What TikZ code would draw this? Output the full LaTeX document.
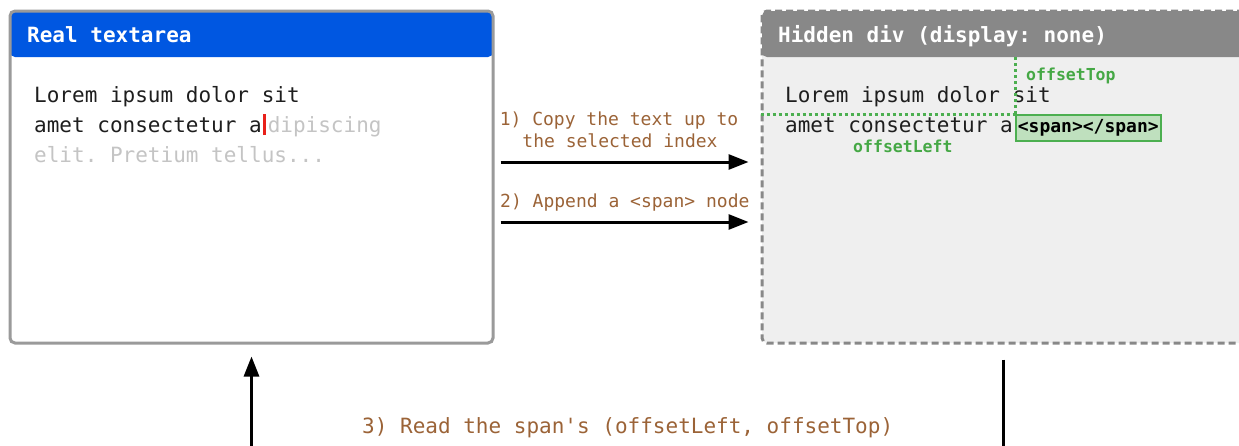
\documentclass[tikz,border=0pt]{standalone}
\usepackage{fontspec}
\setmonofont{DejaVu Sans Mono}
\usetikzlibrary{arrows.meta}
\definecolor{hdrblue}{HTML}{0057E1}
\definecolor{hdrgray}{HTML}{888888}
\definecolor{boxgray}{HTML}{9A9A9A}
\definecolor{divbg}{HTML}{EFEFEF}
\definecolor{bodytext}{HTML}{1E1E1E}
\definecolor{faded}{HTML}{C4C4C4}
\definecolor{cursorred}{HTML}{E8201A}
\definecolor{lblbrown}{HTML}{9B6337}
\definecolor{grtext}{HTML}{45A845}
\definecolor{grline}{HTML}{4CAF50}
\definecolor{spanfill}{HTML}{BFE0BE}
\newcommand\bodyfnt{\ttfamily\fontsize{21}{25}\selectfont}
\newcommand\lblfnt{\ttfamily\fontsize{18}{22}\selectfont}
\begin{document}
\begin{tikzpicture}[x=1pt,y=-1pt,
  tabox/.style={fill=white, draw=boxgray, line width=3pt, rounded corners=5pt,
    minimum width=483pt, minimum height=332pt, inner sep=0pt,
    path picture={\fill[hdrblue] (path picture bounding box.north west) rectangle ([yshift=-46pt]path picture bounding box.north east);}},
  hdbox/.style={fill=divbg, draw=hdrgray, line width=3pt, dash pattern=on 7pt off 4pt, rounded corners=5pt,
    minimum width=498pt, minimum height=332pt, inner sep=0pt,
    path picture={\fill[hdrgray] (path picture bounding box.north west) rectangle ([yshift=-46pt]path picture bounding box.north east);}},
  titletxt/.style={anchor=base west, inner sep=0pt, text=white, font=\bodyfnt\bfseries},
  bodytxt/.style={anchor=base west, inner sep=0pt, text=bodytext, font=\bodyfnt},
  lbl/.style={inner sep=0pt, text=lblbrown, font=\lblfnt},
  grlbl/.style={anchor=base west, inner sep=0pt, text=grtext, font=\ttfamily\bfseries\fontsize{16.5}{20}\selectfont},
  spanbox/.style={fill=spanfill, draw=grline, line width=1.6pt, minimum width=145pt, minimum height=26pt,
    inner sep=0pt, font=\lblfnt\bfseries, text=black},
  gdot/.style={draw=grline, line width=3pt, dash pattern=on 3pt off 3pt},
  arr/.style={draw=black, line width=3pt, -{Triangle[length=20pt,width=15pt]}},
  plainline/.style={draw=black, line width=3pt}
]
\useasboundingbox (0,0) rectangle (1239,445);
\clip (0,0) rectangle (1239,445);

% boxes
\node[tabox] (ta) at (251.5,177) {};
\node[hdbox] (hd) at (1011,177) {};

% titles
\node[titletxt] (tatitle) at (27,42) {Real textarea};
\node[titletxt] (hdtitle) at (778,42) {Hidden div (display: none)};

% textarea text
\node[bodytxt] (tl1) at (34,102) {Lorem ipsum dolor sit};
\node[bodytxt] (tl2) at (34,132) {amet consectetur a\kern1.5pt\textcolor{cursorred}{\rule[-3pt]{3pt}{21pt}}\kern1.5pt\textcolor{faded}{dipiscing}};
\node[bodytxt, text=faded] (tl3) at (34,162) {elit. Pretium tellus...};

% hidden div text
\node[bodytxt] (hl1) at (785,102) {Lorem ipsum dolor sit};
\node[bodytxt] (hl2) at (785,132) {amet consectetur a};
\node[spanbox, anchor=north west] (span) at (1015,114) {<span></span>};
\coordinate (hdhead) at (762,57);
\draw[gdot] (hd.west |- span.north west) -- (span.north west);
\draw[gdot] (span.north west |- hdhead) -- (span.north west);
\node[grlbl] (otop) at (1026,80) {offsetTop};
\node[grlbl] (oleft) at (853,152) {offsetLeft};

% arrows between boxes
\node[lbl, anchor=base] (l1a) at (619,125) {1) Copy the text up to};
\node[lbl, anchor=base] (l1b) at (620,147) {the selected index};
\draw[arr] ([xshift=6pt]ta.east |- 0,162) -- ([xshift=-12pt]hd.west |- 0,162);
\node[lbl, anchor=base west] (l2) at (500,207) {2) Append a <span> node};
\draw[arr] ([xshift=6pt]ta.east |- 0,222) -- ([xshift=-12pt]hd.west |- 0,222);

% bottom
\coordinate (bl) at (251.5,460);
\coordinate (br) at (1003,460);
\draw[arr] (bl) -- ([yshift=-12pt]ta.south);
\draw[plainline] (br |- hd.south) ++(0,15) -- (br);
\node[lbl, anchor=base west, font=\bodyfnt] (l3) at (362,433) {3) Read the span's (offsetLeft, offsetTop)};
\end{tikzpicture}
\end{document}
